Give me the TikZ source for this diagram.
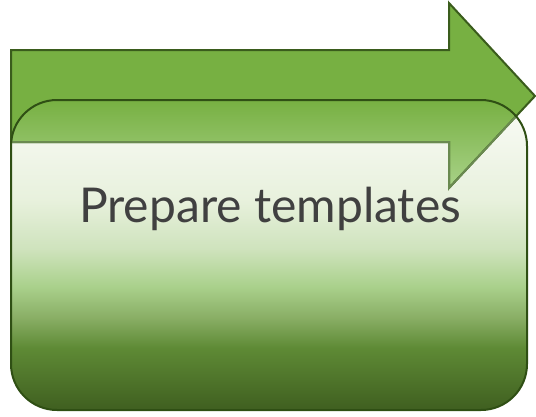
\documentclass[tikz,border=0pt]{standalone}
\usepackage{fontspec}
\setmainfont{Lato}
\definecolor{arrowgreen}{HTML}{77B042}
\definecolor{arrowedge}{HTML}{3A5C1C}
\definecolor{fadededge}{HTML}{6A8A50}
\definecolor{rectedge}{HTML}{2F4F14}
\definecolor{textgray}{HTML}{404040}
\definecolor{overlapbottom}{HTML}{AAD38A}
\definecolor{rsA}{HTML}{3F5F20}
\definecolor{rsB}{HTML}{5E8A35}
\definecolor{rsC}{HTML}{8AAF66}
\definecolor{rsD}{HTML}{AAD18C}
\definecolor{rsE}{HTML}{CFE3BD}
\definecolor{rsF}{HTML}{E8F1DD}
\definecolor{rsG}{HTML}{FAFBF7}
\pgfdeclareverticalshading{rectshade}{100bp}{%
  color(0bp)=(rsA);
  color(25bp)=(rsA);
  color(35bp)=(rsB);
  color(40bp)=(rsC);
  color(45bp)=(rsD);
  color(51bp)=(rsE);
  color(59bp)=(rsF);
  color(75bp)=(rsG);
  color(100bp)=(rsG)}
\begin{document}
\begin{tikzpicture}[x=1pt,y=-1pt,
  arrowfill/.style={fill=arrowgreen},
  arrowline/.style={draw=arrowedge,line width=2pt,line join=miter},
  rectline/.style={draw=rectedge,line width=2pt},
  label/.style={text=textgray,font=\fontsize{48}{52}\selectfont}]
\useasboundingbox (0,0) rectangle (536,416);
\def\arrowpath{(11,50) -- (449,50) -- (449,3) -- (535,96) -- (449,188) -- (449,142) -- (11,142) -- cycle}
\def\rectpath{[rounded corners=46pt] (11,100) rectangle (527,410)}
% arrow fill
\fill[arrowfill] \arrowpath;
% rounded rectangle
\shade[shading=rectshade] \rectpath;
% overlap of arrow and rectangle
\begin{scope}
  \clip \rectpath;
  \clip \arrowpath;
  \shade[top color=arrowgreen, bottom color=overlapbottom] (0,100) rectangle (536,190);
\end{scope}
% arrow border
\draw[arrowline] \arrowpath;
\begin{scope}
  \clip \rectpath;
  \draw[arrowline,draw=fadededge] \arrowpath;
\end{scope}
\draw[rectline] \rectpath;
\node[label,anchor=base] (t) at (270,222) {Prepare templates};
\end{tikzpicture}
\end{document}
